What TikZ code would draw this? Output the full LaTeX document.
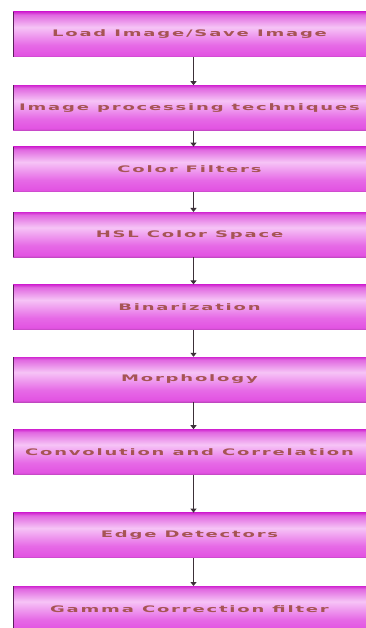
\documentclass[tikz,border=0pt]{standalone}
\usepackage{fontspec}
\setmainfont{DejaVu Sans}[FakeStretch=2.0, LetterSpace=20]
\usetikzlibrary{positioning,arrows.meta}
\definecolor{stagetop}{HTML}{D22AD2}
\definecolor{stagemid}{HTML}{F6C4F6}
\definecolor{stagelow}{HTML}{E253E2}
\definecolor{stageedge}{HTML}{5A1E5A}
\definecolor{stagetext}{HTML}{A65454}
\definecolor{flowarrow}{HTML}{3C3038}
\pgfdeclareverticalshading{stagefill}{100bp}{color(0bp)=(stagelow!85!black);
	color(25bp)=(stagelow!85!black); color(27bp)=(stagelow);
	color(38bp)=(stagelow!80!stagemid); color(58bp)=(stagemid);
	color(72bp)=(stagetop!60!stagemid); color(75bp)=(stagetop);
	color(100bp)=(stagetop)}

\begin{document}
\begin{tikzpicture}[x=1pt, y=-1pt,
		stagebox/.style = {rectangle, minimum width=353pt, minimum height=45pt,
			inner sep=0pt, shading=stagefill, shading angle=0, text=stagetext,
			font=\fontsize{9}{10}\selectfont\bfseries,
			path picture={
				\draw[stageedge, line width=2.2pt]
					(path picture bounding box.north west) --
					(path picture bounding box.south west);
			}},
		flow/.style = {flowarrow, line width=1.2pt,
			-{Triangle[width=6pt, length=4pt]}}]
		\useasboundingbox (0, 0) rectangle (366, 628);
		\clip (0, 0) rectangle (366, 628);
		% the stages, top to bottom
		\node[stagebox] (load) at (189.5, 34.5) {Load Image/Save Image};
		\node[stagebox, below=28pt of load] (tech) {Image processing techniques};
		\node[stagebox, below=16pt of tech] (filters) {Color Filters};
		\node[stagebox, below=20pt of filters] (hsl) {HSL Color Space};
		\node[stagebox, below=27pt of hsl] (binar) {Binarization};
		\node[stagebox, below=27pt of binar] (morph) {Morphology};
		\node[stagebox, below=27pt of morph] (conv) {Convolution and Correlation};
		\node[stagebox, below=38pt of conv] (edge) {Edge Detectors};
		\node[stagebox, below=28pt of edge] (gamma) {Gamma Correction filter};
		% arrows between them
		\foreach \a/\b in {load/tech, tech/filters, filters/hsl, hsl/binar,
				binar/morph, morph/conv, conv/edge, edge/gamma}
			\draw[flow] ([xshift=4pt]\a.south) -- ([xshift=4pt]\b.north);
	\end{tikzpicture}
\end{document}
